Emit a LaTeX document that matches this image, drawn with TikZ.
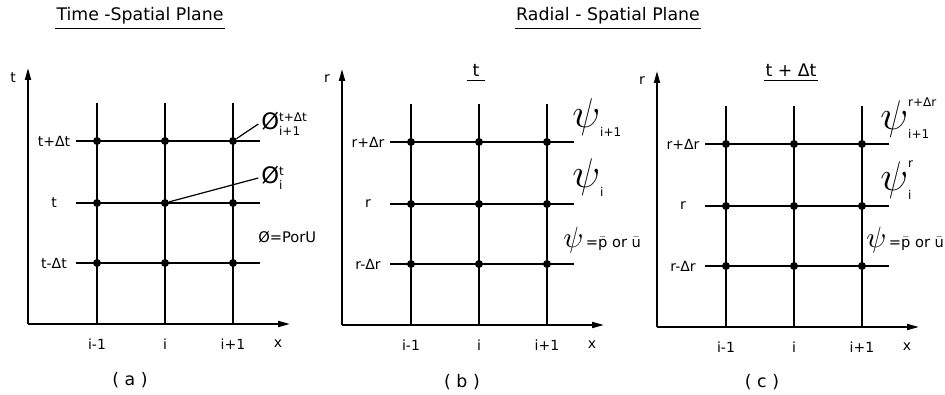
\documentclass[tikz,border=0pt]{standalone}
\usepackage{fontspec}
\setmainfont{DejaVu Sans}
\usetikzlibrary{arrows.meta,positioning}
\tikzset{
    % grid point (filled dot)
    gpoint/.style={circle, fill=black, minimum size=6pt, inner sep=0pt},
    % text styles
    ticklab/.style={font=\fontsize{10.5}{12}\selectfont, inner sep=1pt},
    titlelab/.style={font=\fontsize{13}{15}\selectfont, inner sep=1pt},
    varlab/.style={font=\fontsize{17}{20}\selectfont, inner sep=0pt, anchor=west},
    eqlab/.style={font=\fontsize{11}{13}\selectfont, inner sep=0pt, anchor=west},
    % lines
    axisline/.style={line width=1.4pt, -{Stealth[length=9pt,width=4.5pt,inset=0pt]}},
    gridline/.style={line width=1pt},
    leader/.style={line width=0.9pt},
}

\begin{document}
\begin{tikzpicture}[x=0.75pt,y=-0.75pt]
  \useasboundingbox (0,0) rectangle (945,395);
  % one grid per panel
  \foreach \p/\sx/\sy/\v in {a/28/0/t,b/342/1/r,c/657/3/r}{
    \begin{scope}[shift={(\sx,\sy)}]
      \coordinate (\p-o) at (0,324);
      \coordinate (\p-top) at (0,68);
      \coordinate (\p-end) at (262,324);
      \draw[axisline] (\p-o) -- (\p-top);
      \draw[axisline] (\p-o) -- (\p-end);
      \node[ticklab] (\p-ax) at (-15,78) {\v};
      \node[ticklab] (\p-ex) at (250,344) {x};
      \foreach \c/\cx/\ct in {1/69/i-1,2/137/i,3/205/i+1}{
        \coordinate (\p-v\c) at (\cx,103);
        \coordinate (\p-b\c) at (\cx,324);
        \draw[gridline] (\p-v\c) -- (\p-b\c);
        \node[ticklab] (\p-i\c) at (\cx,344) {\ct};
      }
      \foreach \r/\ry/\rt in {1/141/\v+Δ\v,2/203/\v,3/263/\v-Δ\v}{
        \coordinate (\p-l\r) at (48,\ry);
        \coordinate (\p-r\r) at (232,\ry);
        \draw[gridline] (\p-l\r) -- (\p-r\r);
        \node[ticklab] (\p-t\r) at (26,\ry) {\rt};
        \foreach \c/\cx in {1/69,2/137,3/205}
          \node[gpoint] (\p-\c\r) at (\cx,\ry) {};
      }
    \end{scope}
  }
  % captions
  \node[titlelab] (cap-a) at (130,380) {( a )};
  \node[titlelab] (cap-b) at (462,382) {( b )};
  \node[titlelab] (cap-c) at (762,382) {( c )};
  % titles
  \node[titlelab] (ttl-a) at (140,16) {Time -Spatial Plane};
  \draw[leader] ([yshift=-2pt]ttl-a.south west) -- ([yshift=-2pt]ttl-a.south east);
  \node[titlelab] (ttl-bc) at (608,16) {Radial - Spatial Plane};
  \draw[leader] ([yshift=-2pt]ttl-bc.south west) -- ([yshift=-2pt]ttl-bc.south east);
  \node[titlelab] (sub-b) at (476,70) {t};
  \draw[leader] ([yshift=-2pt,xshift=-3pt]sub-b.south west) -- ([yshift=-2pt,xshift=3pt]sub-b.south east);
  \node[titlelab] (sub-c) at (791,70) {t + Δt};
  \draw[leader] ([yshift=-2pt]sub-c.south west) -- ([yshift=-2pt]sub-c.south east);
  % variables, panel (a)
  \node[varlab] (phi-up) at (261,124) {Ø$^{\mbox{\small t+Δt}}_{\mbox{\small i+1}}$};
  \node[varlab] (phi-mid) at (261,178) {Ø$^{\mbox{\small t}}_{\mbox{\small i}}$};
  \node[eqlab] (phi-eq) at (258,237) {Ø=PorU};
  \draw[leader] (a-31) -- ([xshift=-2pt]phi-up.west);
  \draw[leader] (a-22) -- ([xshift=-2pt]phi-mid.west);
  % variables, panel (b)
  \node[varlab] (psi-b1) at (572,118) {$\scalebox{1.8}{$\psi$}_{\mbox{\small i+1}}$};
  \node[varlab] (psi-b2) at (572,178) {$\scalebox{1.8}{$\psi$}_{\mbox{\small i}}$};
  \node[eqlab] (psi-b3) at (563,240) {$\scalebox{2}{$\psi$}$\,=$\bar{\mbox{p}}$ or $\bar{\mbox{u}}$};
  % variables, panel (c)
  \node[varlab] (psi-c1) at (880,118) {$\scalebox{1.8}{$\psi$}^{\mbox{\small r+Δr}}_{\mbox{\small i+1}}$};
  \node[varlab] (psi-c2) at (880,180) {$\scalebox{1.8}{$\psi$}^{\mbox{\small r}}_{\mbox{\small i}}$};
  \node[eqlab] (psi-c3) at (866,240) {$\scalebox{2}{$\psi$}$\,=$\bar{\mbox{p}}$ or $\bar{\mbox{u}}$};
\end{tikzpicture}
\end{document}
